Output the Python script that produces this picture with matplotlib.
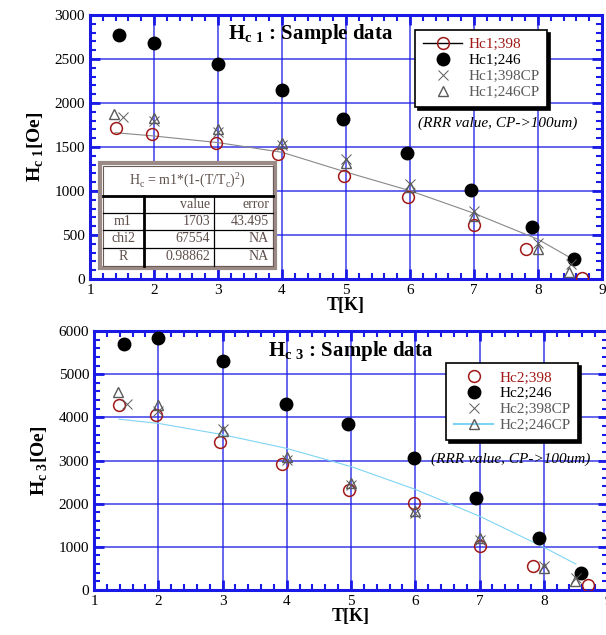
import matplotlib
matplotlib.use('Agg')
import matplotlib.pyplot as plt
from matplotlib.lines import Line2D
from matplotlib.patches import Rectangle
from matplotlib.ticker import MultipleLocator

plt.rcParams['font.family'] = ['Liberation Serif', 'DejaVu Serif']
plt.rcParams['mathtext.fontset'] = 'custom'
plt.rcParams['mathtext.rm'] = 'Liberation Serif'
plt.rcParams['mathtext.bf'] = 'Liberation Serif:bold'

# Hc1 panel
T1_398 = [1.40, 1.97, 2.97, 3.93, 4.97, 5.97, 7.00, 7.82, 8.68]
hc1_398 = [1720, 1650, 1550, 1420, 1175, 935, 615, 340, 15]
T1_246 = [1.46, 2.00, 3.00, 4.00, 4.95, 5.96, 6.95, 7.90, 8.56]
hc1_246 = [2775, 2680, 2440, 2150, 1820, 1430, 1010, 590, 225]
T1_398cp = [1.52, 2.00, 3.00, 4.00, 5.00, 6.00, 7.00, 8.00, 8.52]
hc1_398cp = [1837, 1800, 1675, 1525, 1360, 1085, 770, 410, 165]
T1_246cp = [1.38, 2.00, 3.00, 4.00, 5.00, 6.00, 7.00, 8.00, 8.49]
hc1_246cp = [1880, 1835, 1710, 1550, 1315, 1040, 720, 340, 75]
T1_fit = [1.39, 2.0, 3.0, 4.0, 5.0, 6.0, 7.0, 8.0, 8.52]
hc1_fit = [1663, 1625, 1550, 1440, 1215, 1003, 747, 451, 235]

# Hc3 panel
T3_398 = [1.39, 1.97, 2.96, 3.92, 4.97, 5.98, 7.00, 7.83, 8.69]
hc3_398 = [4275, 4065, 3430, 2910, 2315, 2005, 1020, 565, 115]
T3_246 = [1.46, 2.00, 3.00, 3.99, 4.96, 5.98, 6.95, 7.92, 8.58]
hc3_246 = [5710, 5840, 5300, 4320, 3835, 3060, 2135, 1210, 400]
T3_398cp = [1.51, 2.00, 3.00, 4.00, 5.00, 6.00, 7.00, 8.00, 8.50]
hc3_398cp = [4300, 4150, 3740, 3010, 2430, 1775, 1160, 555, 270]
T3_246cp = [1.38, 2.00, 3.00, 4.00, 5.00, 6.00, 7.00, 8.00, 8.48]
hc3_246cp = [4590, 4275, 3680, 3085, 2485, 1830, 1195, 500, 215]
T3_fit = [1.39, 2.0, 3.0, 4.0, 5.0, 6.0, 7.0, 8.0, 8.50]
hc3_fit = [3958, 3860, 3600, 3280, 2860, 2331, 1710, 990, 602]

fit_rows = [['', 'value', 'error'],
            ['m1', '1703', '43.495'],
            ['chi2', '67554', 'NA'],
            ['R', '0.98862', 'NA']]

BLUE = '#1a1ae6'
RED = '#a01818'
GRAY = '#5a5a5a'

fig = plt.figure(figsize=(6.06, 6.35), dpi=100)
ax1 = fig.add_axes([90/606, 1-279/635, 512/606, 264/635])
ax2 = fig.add_axes([94/606, 1-590/635, 514/606, 259/635])


def style(ax, ymax, ymaj, ymin):
    ax.set_xlim(1, 9)
    ax.set_ylim(0, ymax)
    ax.xaxis.set_major_locator(MultipleLocator(1))
    ax.xaxis.set_minor_locator(MultipleLocator(0.2))
    ax.yaxis.set_major_locator(MultipleLocator(ymaj))
    ax.yaxis.set_minor_locator(MultipleLocator(ymin))
    ax.grid(True, which='major', color=BLUE, lw=1.1, alpha=0.85)
    ax.set_axisbelow(True)
    for s in ax.spines.values():
        s.set_color(BLUE)
        s.set_linewidth(2.2)
    ax.tick_params(which='both', direction='in', top=True, right=True,
                   color=BLUE, labelsize=11, labelcolor='black')
    ax.tick_params(which='major', length=7, width=2)
    ax.tick_params(which='minor', length=4, width=1.5)
    ax.set_xlabel('T[K]', fontsize=13, fontweight='bold', labelpad=0)


def points(ax, a, b, c, d):
    ax.plot(*a, 'o', ms=8.5, mfc='none', mec=RED, mew=1.1, zorder=4)
    ax.plot(*b, 'o', ms=9, color='black', zorder=4)
    ax.plot(*c, 'x', ms=7, color=GRAY, mew=0.7, zorder=4)
    ax.plot(*d, '^', ms=6.5, mfc='none', mec=GRAY, mew=1.0, zorder=4)


style(ax1, 3000, 500, 100)
style(ax2, 6000, 1000, 200)

ax1.plot(T1_fit, hc1_fit, color='#888888', lw=0.8, zorder=3)
points(ax1, (T1_398, hc1_398), (T1_246, hc1_246),
       (T1_398cp, hc1_398cp), (T1_246cp, hc1_246cp))
ax2.plot(T3_fit, hc3_fit, color='#7fd4f4', lw=0.8, zorder=3)
points(ax2, (T3_398, hc3_398), (T3_246, hc3_246),
       (T3_398cp, hc3_398cp), (T3_246cp, hc3_246cp))

ax1.set_ylabel(r'$\mathbf{H}_{\mathbf{c\ 1}}$[Oe]', fontsize=14, fontweight='bold', labelpad=6)
ax2.set_ylabel(r'$\mathbf{H}_{\mathbf{c\ 3}}$[Oe]', fontsize=14, fontweight='bold', labelpad=6)

ax1.text(0.27, 0.975, r'$\mathbf{H}_{\mathbf{c\ 1}}$ : Sample data', transform=ax1.transAxes,
         fontsize=15, fontweight='bold', va='top', ha='left')
ax2.text(0.338, 0.97, r'$\mathbf{H}_{\mathbf{c\ 3}}$ : Sample data', transform=ax2.transAxes,
         fontsize=15, fontweight='bold', va='top', ha='left')

ax1.text(0.64, 0.59, '(RRR value, CP->100um)', transform=ax1.transAxes,
         fontsize=11, style='italic', va='center', ha='left')
ax2.text(0.656, 0.506, '(RRR value, CP->100um)', transform=ax2.transAxes,
         fontsize=11, style='italic', va='center', ha='left')


def legend(ax, labels, first_line, last_line, anchor):
    h = [Line2D([], [], color='black' if first_line else 'none', lw=1, marker='o', ms=8.5,
                mfc='none', mec=RED, mew=1.1),
         Line2D([], [], ls='none', marker='o', ms=9, color='black'),
         Line2D([], [], ls='none', marker='x', ms=7, color=GRAY, mew=0.7),
         Line2D([], [], color='#7fd4f4' if last_line else 'none', lw=1.5, marker='^', ms=6.5,
                mfc='none', mec=GRAY)]
    leg = ax.legend(h, labels, loc='upper left', bbox_to_anchor=anchor, fontsize=11,
                    frameon=True, fancybox=False, shadow={'color': 'black', 'alpha': 1},
                    handlelength=2.6, handletextpad=0.4, borderpad=0.5, labelspacing=0.15,
                    borderaxespad=0)
    leg.get_frame().set_edgecolor('black')
    leg.get_frame().set_linewidth(1.2)
    cols = [RED, 'black', GRAY, GRAY]
    for t, c in zip(leg.get_texts(), cols):
        t.set_color(c)
    leg.set_zorder(6)


legend(ax1, ['Hc1;398', 'Hc1;246', 'Hc1;398CP', 'Hc1;246CP'], True, False, (0.635, 0.943))
legend(ax2, ['Hc2;398', 'Hc2;246', 'Hc2;398CP', 'Hc2;246CP'], False, True, (0.685, 0.876))

# fit table drawn in pixel space
tab = fig.add_axes([0, 0, 1, 1], zorder=7)
tab.set_xlim(0, 606)
tab.set_ylim(635, 0)
tab.axis('off')
BR = '#9b8a86'
TXT = '#5e4f4b'
tab.add_patch(Rectangle((100, 163), 175, 105, facecolor='white', edgecolor=BR, lw=3))
tab.add_patch(Rectangle((102.5, 165.5), 170, 100, facecolor='none', edgecolor='#6a5a56', lw=0.8))
tab.text(187, 180, r'H$_{\rm c}$ = m1*(1-(T/T$_{\rm c}$)$^{2}$)', ha='center', va='center',
         fontsize=10, color=TXT)
tab.plot([102.5, 272.5], [196, 196], color='black', lw=2)
row_y = [196, 213, 230, 248, 266]
for y in row_y[1:-1]:
    tab.plot([102.5, 272.5], [y, y], color='black', lw=0.9)
tab.plot([143.5, 143.5], [196, 266], color='black', lw=2)
tab.plot([213.5, 213.5], [196, 266], color='black', lw=0.9)
for i, row in enumerate(fit_rows):
    yc = (row_y[i] + row_y[i + 1]) / 2
    tab.text(123, yc, row[0], ha='center', va='center', fontsize=10, color=TXT)
    tab.text(210, yc, row[1], ha='right', va='center', fontsize=10, color=TXT)
    tab.text(269, yc, row[2], ha='right', va='center', fontsize=10, color=TXT)

fig.savefig('out.png', dpi=100)
